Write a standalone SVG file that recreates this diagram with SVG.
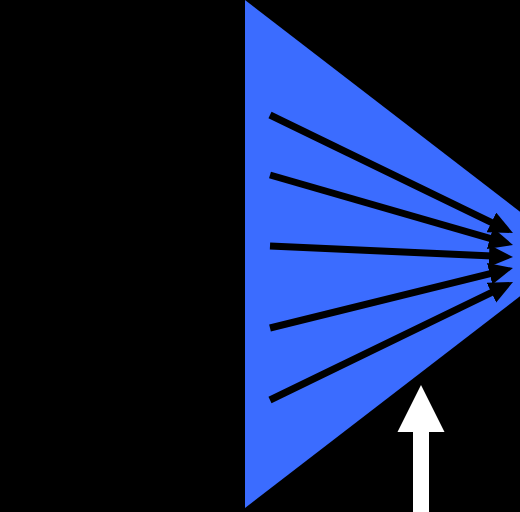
<svg xmlns="http://www.w3.org/2000/svg" width="520" height="512" viewBox="0 0 520 512">
  <defs>
    <style>
      .ray { stroke: #000; stroke-width: 7; fill: none; marker-end: url(#head); }
    </style>
    <marker id="head" markerUnits="userSpaceOnUse" markerWidth="26" markerHeight="24" refX="9" refY="11" orient="auto" viewBox="0 0 26 24">
      <path d="M0,0 L24,11 L0,22 z" fill="#000"/>
    </marker>
  </defs>
  <rect x="0" y="0" width="520" height="512" fill="#000"/>
  <g id="cone">
    <polygon points="245,0 575,254 245,508" fill="#3b6cff"/>
  </g>
  <g id="rays">
    <line class="ray" x1="270" y1="115" x2="499.5" y2="226.4"/>
    <line class="ray" x1="270" y1="175" x2="498.6" y2="240.8"/>
    <line class="ray" x1="270" y1="246" x2="498.0" y2="256.3"/>
    <line class="ray" x1="270" y1="328" x2="498.4" y2="271.6"/>
    <line class="ray" x1="270" y1="400" x2="499.5" y2="288.6"/>
  </g>
  <g id="pointer">
    <rect x="413" y="431" width="16" height="81" fill="#fff"/>
    <polygon points="421,385 444.5,432 397.5,432" fill="#fff"/>
  </g>
</svg>
